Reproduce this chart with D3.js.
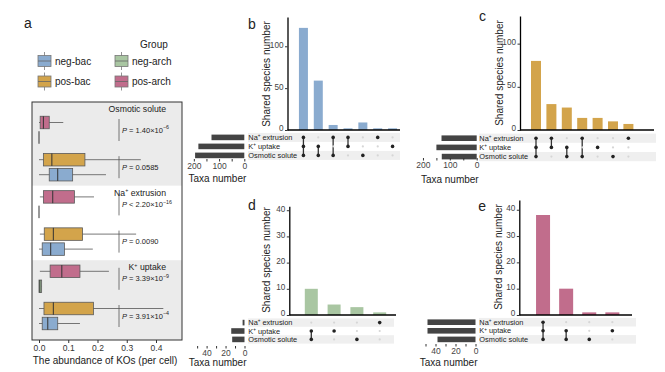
<!DOCTYPE html>
<html>
<head>
<meta charset="utf-8">
<script src="https://cdn.jsdelivr.net/npm/d3@7"></script>
<style>
body { margin: 0; background: #fff; }
svg { font-family: "Liberation Sans", Arial, Helvetica, sans-serif; }
</style>
</head>
<body>
<svg id="fig" width="665" height="372"></svg>
<script>
// ---- data ----
var groups = ["neg-bac", "pos-bac", "neg-arch", "pos-arch"];
var groupColors = ["#8aabcf", "#d3a44b", "#a9c6a2", "#c16d8c"];
var genes = ["Osmotic solute", "Na+ extrusion", "K+ uptake"];

// [min, q1, median, q3, max] for each gene (abundance of KOs per cell)
var posArch = [[0, 0.004, 0.015, 0.035, 0.083], [0.003, 0.015, 0.047, 0.121, 0.188], [0.003, 0.038, 0.078, 0.14, 0.239]];
var negArch = [[0, 0, 0, 0, 0], [0, 0, 0, 0, 0], [0, 0, 0.003, 0.009, 0.009]];
var posBac = [[0, 0.015, 0.044, 0.157, 0.348], [0.003, 0.018, 0.049, 0.149, 0.332], [0, 0.017, 0.049, 0.186, 0.425]];
var negBac = [[0, 0.035, 0.064, 0.115, 0.229], [0, 0.011, 0.04, 0.087, 0.184], [0, 0.011, 0.03, 0.064, 0.14]];

// p value labels: [sign, mantissa, exponent]
var pArch = [["=", "1.40×10", "−6"], ["<", "2.20×10", "−16"], ["=", "3.39×10", "−9"]];
var pBac = [["=", "0.0585", ""], ["=", "0.0090", ""], ["=", "3.91×10", "−4"]];
var abundTicks = [0, 0.1, 0.2, 0.3, 0.4];

// upset plots
var upsetSets = ["Na+ extrusion", "K+ uptake", "Osmotic solute"];
var bCounts = [122, 59, 6, 2, 9, 2, 2];
var bCombos = [[0, 1, 2], [1, 2], [0, 2], [0, 1], [2], [0], [1]];
var bSetSizes = [130, 182, 195];
var cCounts = [80, 30, 26, 14, 14, 10, 7];
var cCombos = [[0, 1, 2], [0, 1], [1, 2], [0, 2], [1], [2], [0]];
var cSetSizes = [131, 150, 130];
var dCounts = [10, 4, 3, 1];
var dCombos = [[1, 2], [1], [2], [0]];
var dSetSizes = [2, 14, 13];
var eCounts = [38, 10, 1, 1];
var eCombos = [[0, 1, 2], [1, 2], [2], [1]];
var eSetSizes = [48, 48, 38];

var svg = d3.select("#fig");
var ink = "#222";

// superscript "+" in labels like Na+ / K+
function supLabel(t, s, fs) {
  var parts = s.split("+");
  t.append("tspan").text(parts[0]);
  if (parts.length > 1) {
    t.append("tspan").attr("dy", -fs * 0.38).attr("font-size", fs * 0.62).text("+");
    t.append("tspan").attr("dy", fs * 0.38).text(parts[1]);
  }
}

// ---- panel a ----
var frame = {l: 32, r: 182, t: 102, b: 340};
var ax = d3.scaleLinear().domain([0, 0.4]).range([39, 156]);
var rows = [];
genes.forEach(function(g) { rows.push(g + "|arch"); rows.push(g + "|bac"); });
var ay = d3.scalePoint().domain(rows).range([130, 316]);

var bandTops = [];
genes.forEach(function(g, i) {
  var top = i == 0 ? frame.t : (ay(genes[i - 1] + "|bac") + ay(g + "|arch")) / 2;
  var bot = i == genes.length - 1 ? frame.b : (ay(g + "|bac") + ay(genes[i + 1] + "|arch")) / 2;
  bandTops.push(top);
  svg.append("rect")
    .attr("x", frame.l).attr("y", top)
    .attr("width", frame.r - frame.l).attr("height", bot - top)
    .attr("fill", i == 1 ? "#fff" : "#ebebeb");
});

var boxes = [];
genes.forEach(function(g, i) {
  boxes.push({row: g + "|arch", off: -7.5, s: posArch[i], col: groupColors[3]});
  boxes.push({row: g + "|arch", off: 7.5, s: negArch[i], col: groupColors[2]});
  boxes.push({row: g + "|bac", off: -7.5, s: posBac[i], col: groupColors[1]});
  boxes.push({row: g + "|bac", off: 7.5, s: negBac[i], col: groupColors[0]});
});

var boxH = 12.5;
var bx = svg.append("g").selectAll("g").data(boxes).enter().append("g");
bx.append("line")
  .attr("x1", function(d) { return ax(d.s[0]); })
  .attr("x2", function(d) { return ax(d.s[4]); })
  .attr("y1", function(d) { return ay(d.row) + d.off; })
  .attr("y2", function(d) { return ay(d.row) + d.off; })
  .attr("stroke", "#555").attr("stroke-width", 0.8);
bx.append("rect")
  .attr("x", function(d) { return ax(d.s[1]); })
  .attr("width", function(d) { return ax(d.s[3]) - ax(d.s[1]); })
  .attr("y", function(d) { return ay(d.row) + d.off - boxH / 2; })
  .attr("height", boxH)
  .attr("fill", function(d) { return d.col; })
  .attr("stroke", "#5a5a5a").attr("stroke-width", 0.8);
bx.append("line")
  .attr("x1", function(d) { return ax(d.s[2]); })
  .attr("x2", function(d) { return ax(d.s[2]); })
  .attr("y1", function(d) { return ay(d.row) + d.off - boxH / 2; })
  .attr("y2", function(d) { return ay(d.row) + d.off + boxH / 2; })
  .attr("stroke", "#333").attr("stroke-width", 1);

// p value brackets
function pLabel(cy, p) {
  svg.append("line").attr("x1", 119).attr("x2", 119)
    .attr("y1", cy - 11).attr("y2", cy + 11)
    .attr("stroke", "#555").attr("stroke-width", 0.8);
  var t = svg.append("text").attr("x", 122).attr("y", cy + 2.6)
    .attr("font-size", 7.5).attr("fill", ink);
  t.append("tspan").attr("font-style", "italic").text("P");
  t.append("tspan").text(" " + p[0] + " " + p[1]);
  if (p[2]) t.append("tspan").attr("dy", -3.2).attr("font-size", 5.3).text(p[2]);
}
genes.forEach(function(g, i) {
  pLabel(ay(g + "|arch"), pArch[i]);
  pLabel(ay(g + "|bac"), pBac[i]);
  var t = svg.append("text").attr("x", 166).attr("y", bandTops[i] + 9.8)
    .attr("text-anchor", "end").attr("font-size", 8.7).attr("fill", ink);
  supLabel(t, g, 8.7);
});

svg.append("rect")
  .attr("x", frame.l).attr("y", frame.t)
  .attr("width", frame.r - frame.l).attr("height", frame.b - frame.t)
  .attr("fill", "none").attr("stroke", "#333").attr("stroke-width", 1);

var xa = svg.append("g")
  .attr("transform", "translate(0," + frame.b + ")")
  .call(d3.axisBottom(ax).tickValues(abundTicks).tickSize(3).tickPadding(1.5).tickFormat(d3.format(".1f")));
xa.select(".domain").remove();
xa.selectAll("line").attr("stroke", "#333");
xa.selectAll("text").attr("font-size", 8.5).attr("fill", "#333");
xa.attr("font-family", null);

svg.append("text").attr("x", 105).attr("y", 363.5).attr("text-anchor", "middle")
  .attr("font-size", 10).attr("fill", ink).text("The abundance of KOs (per cell)");

// legend
svg.append("text").attr("x", 140).attr("y", 47.5).attr("font-size", 10).attr("fill", ink).text("Group");
var legendPos = [[38, 61], [38, 81.5], [115, 61], [115, 81.5]];
groups.forEach(function(g, i) {
  var lx = legendPos[i][0], ly = legendPos[i][1];
  svg.append("line").attr("x1", lx + 6.5).attr("x2", lx + 6.5).attr("y1", ly - 9).attr("y2", ly + 9)
    .attr("stroke", "#777").attr("stroke-width", 0.8);
  svg.append("rect").attr("x", lx).attr("y", ly - 5.5).attr("width", 13).attr("height", 11)
    .attr("fill", groupColors[i]).attr("stroke", "#777").attr("stroke-width", 0.8);
  svg.append("line").attr("x1", lx).attr("x2", lx + 13).attr("y1", ly).attr("y2", ly)
    .attr("stroke", "#666").attr("stroke-width", 0.8);
  svg.append("text").attr("x", lx + 17).attr("y", ly + 3.5).attr("font-size", 10)
    .attr("fill", ink).text(g);
});

svg.append("text").attr("x", 24).attr("y", 28).attr("font-size", 14).attr("fill", ink).text("a");

// ---- upset panels ----
var panels = [
  {letter: "b", lx: 248, ly: 28.5, counts: bCounts, combos: bCombos, sizes: bSetSizes, color: groupColors[0],
   axisX: 287.5, axisEnd: 400, yMax: 135, yTop: 17, yZero: 130, yTicks: [0, 50, 100],
   colRange: [296, 400], barW: 9, rowRange: [137.4, 155.4], stripe: [248, 400], labelX: 248.3,
   ss0: 244.3, ssMax: 214, ssStep: 50, ssAxisY: 159, taxaY: 182, titleX: 266, titleY: 74},
  {letter: "c", lx: 479, ly: 20.7, counts: cCounts, combos: cCombos, sizes: cSetSizes, color: groupColors[1],
   axisX: 520, axisEnd: 654, yMax: 132, yTop: 16, yZero: 130, yTicks: [0, 50, 100],
   colRange: [528.3, 636.1], barW: 10, rowRange: [138.2, 156.6], stripe: [479, 656], labelX: 479.3,
   ss0: 476.7, ssMax: 201, ssStep: 50, ssAxisY: 158, taxaY: 183, titleX: 499, titleY: 73},
  {letter: "d", lx: 248, ly: 210, counts: dCounts, combos: dCombos, sizes: dSetSizes, color: groupColors[2],
   axisX: 289.3, axisEnd: 396, yMax: 41.5, yTop: 206.3, yZero: 315, yTicks: [0, 10, 20, 30, 40],
   colRange: [299.9, 391.1], barW: 13, rowRange: [322.6, 339.4], stripe: [248, 394], labelX: 248.3,
   ss0: 244.5, ssMax: 57, ssStep: 10, ssAxisY: 346, taxaY: 365.5, titleX: 266, titleY: 260},
  {letter: "e", lx: 478.3, ly: 210.7, counts: eCounts, combos: eCombos, sizes: eSetSizes, color: groupColors[3],
   axisX: 519.3, axisEnd: 632, yMax: 43.7, yTop: 200, yZero: 315, yTicks: [0, 10, 20, 30, 40],
   colRange: [531.5, 623.9], barW: 14, rowRange: [322.2, 339.4], stripe: [479, 636], labelX: 479.3,
   ss0: 475.5, ssMax: 54, ssStep: 10, ssAxisY: 344, taxaY: 365.5, titleX: 498.5, titleY: 257}
];

function drawUpset(p) {
  var g = svg.append("g");
  var xc = d3.scalePoint().domain(d3.range(p.counts.length)).range(p.colRange).padding(0.5);
  var y = d3.scaleLinear().domain([0, p.yMax]).range([p.yZero, p.yTop]);
  var ry = d3.scalePoint().domain(d3.range(upsetSets.length)).range(p.rowRange);
  var rowStep = ry.step();
  var sx = d3.scaleLinear().domain([0, p.ssMax]).range([p.ss0, p.ss0 - 54]);

  // matrix stripes
  g.selectAll(".stripe").data([0, 2]).enter().append("rect")
    .attr("x", p.stripe[0]).attr("width", p.stripe[1] - p.stripe[0])
    .attr("y", function(d) { return ry(d) - rowStep / 2; })
    .attr("height", rowStep)
    .attr("fill", "#efefef");

  // intersection bars
  g.selectAll(".bar").data(p.counts).enter().append("rect")
    .attr("x", function(d, i) { return xc(i) - p.barW / 2; })
    .attr("width", p.barW)
    .attr("y", function(d) { return y(d); })
    .attr("height", function(d) { return y(0) - y(d); })
    .attr("fill", p.color);

  // axes
  var ya = g.append("g").attr("transform", "translate(" + p.axisX + ",0)")
    .call(d3.axisLeft(y).tickValues(p.yTicks).tickSize(2.5).tickSizeOuter(0).tickPadding(1.5));
  ya.attr("font-family", null);
  ya.select(".domain").attr("stroke", "#000").attr("stroke-width", 1.3);
  ya.selectAll("line").attr("stroke", "#333");
  ya.selectAll("text").attr("font-size", 8.2).attr("fill", "#444").attr("dy", "0.12em");
  g.append("line").attr("x1", p.axisX).attr("x2", p.axisEnd)
    .attr("y1", y(0)).attr("y2", y(0))
    .attr("stroke", "#000").attr("stroke-width", 1.3);

  g.append("text")
    .attr("transform", "translate(" + p.titleX + "," + p.titleY + ") rotate(-90)")
    .attr("text-anchor", "middle").attr("dy", "0.35em")
    .attr("font-size", 10).attr("fill", ink).text("Shared species number");

  // matrix dots
  p.combos.forEach(function(combo, i) {
    var lo = d3.min(combo), hi = d3.max(combo);
    if (hi > lo) {
      g.append("line").attr("x1", xc(i)).attr("x2", xc(i))
        .attr("y1", ry(lo)).attr("y2", ry(hi))
        .attr("stroke", "#333").attr("stroke-width", 1.3);
    }
    upsetSets.forEach(function(s, j) {
      var on = combo.indexOf(j) >= 0;
      g.append("circle").attr("cx", xc(i)).attr("cy", ry(j))
        .attr("r", on ? 1.8 : 1.1)
        .attr("fill", on ? "#222" : "#d6d6d6");
    });
  });

  // set labels
  upsetSets.forEach(function(s, j) {
    var t = g.append("text").attr("x", p.labelX).attr("y", ry(j)).attr("dy", "0.35em")
      .attr("font-size", 7.4).attr("fill", ink);
    supLabel(t, s, 7.4);
  });

  // set size bars
  g.selectAll(".ss").data(p.sizes).enter().append("rect")
    .attr("x", function(d) { return sx(d); })
    .attr("width", function(d) { return sx(0) - sx(d); })
    .attr("y", function(d, j) { return ry(j) - 2.8; })
    .attr("height", 5.6)
    .attr("fill", "#444");

  var sa = g.append("g").attr("transform", "translate(0," + p.ssAxisY + ")")
    .call(d3.axisBottom(sx).tickValues(d3.range(0, p.ssMax, p.ssStep))
      .tickSize(2.5).tickPadding(1)
      .tickFormat(function(d) { return d % (2 * p.ssStep) == 0 ? d : ""; }));
  sa.attr("font-family", null);
  sa.select(".domain").remove();
  sa.selectAll("line").attr("stroke", "#333");
  sa.selectAll("text").attr("font-size", 8.5).attr("fill", "#444");

  g.append("text").attr("x", p.ss0 + 2).attr("y", p.taxaY).attr("text-anchor", "end")
    .attr("font-size", 10).attr("fill", ink).text("Taxa number");

  g.append("text").attr("x", p.lx).attr("y", p.ly).attr("font-size", 14).attr("fill", ink).text(p.letter);
}

panels.forEach(drawUpset);
</script>
</body>
</html>
